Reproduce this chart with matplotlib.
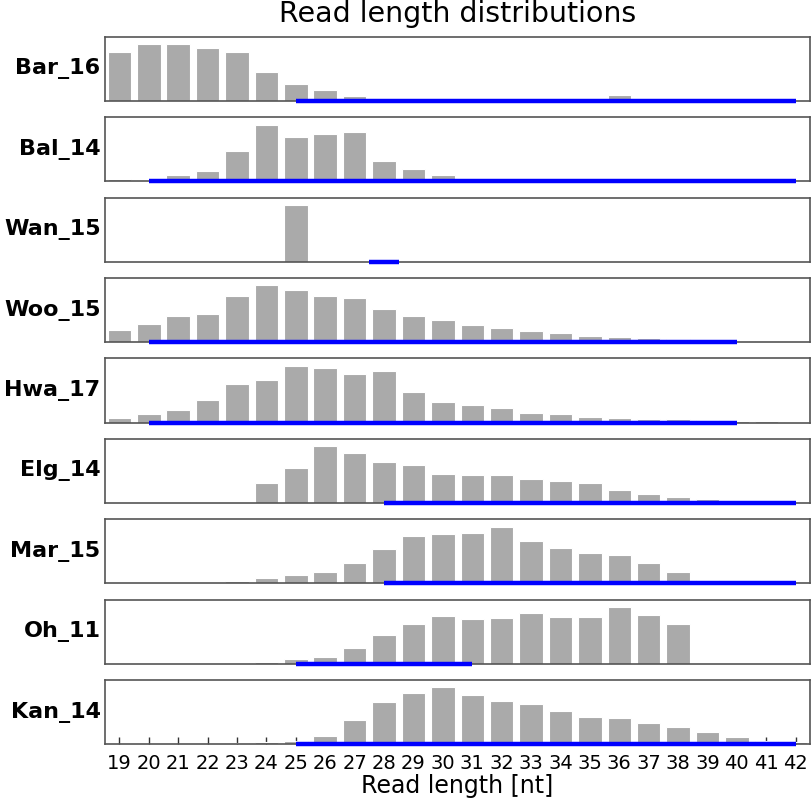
import numpy as np
import matplotlib
matplotlib.use("Agg")
import matplotlib.pyplot as plt

lengths = list(range(19, 43))
samples = ["Bar_16", "Bal_14", "Wan_15", "Woo_15", "Hwa_17", "Elg_14", "Mar_15", "Oh_11", "Kan_14"]

# read length frequencies (%), lengths 19..42
bar_16 = [14.5, 16.9, 16.9, 15.8, 14.5, 8.5, 4.9, 3.3, 1.5, 0.7, 0.1, 0, 0, 0, 0, 0, 0, 1.7, 0, 0, 0, 0, 0, 0]
bal_14 = [0.7, 0.3, 1.8, 3.0, 9.1, 16.9, 13.3, 14.0, 14.8, 6.0, 3.8, 1.8, 0, 0, 0, 0, 0, 0, 0, 0, 0, 0, 0, 0]
wan_15 = [0, 0, 0, 0, 0, 0, 100, 0, 0, 0, 0, 0, 0, 0, 0, 0, 0, 0, 0, 0, 0, 0, 0, 0]
woo_15 = [3.6, 5.5, 7.8, 8.4, 13.9, 17.0, 15.5, 13.9, 13.1, 10.0, 7.8, 6.5, 5.2, 4.2, 3.4, 2.6, 1.8, 1.6, 1.1, 0.8, 0.5, 0.3, 0.2, 0]
hwa_17 = [1.2, 2.4, 3.6, 6.2, 10.7, 12.0, 15.9, 15.2, 13.6, 14.4, 8.6, 5.7, 4.9, 4.1, 2.7, 2.4, 1.6, 1.3, 1.1, 1.0, 0.7, 0.5, 0.3, 0.2]
elg_14 = [0, 0.2, 0.2, 0.2, 0, 5.7, 10.2, 16.4, 14.3, 11.7, 10.9, 8.3, 8.0, 8.0, 7.0, 6.2, 5.7, 3.8, 2.5, 1.8, 1.0, 0, 0, 0]
mar_15 = [0, 0, 0, 0.2, 0.7, 1.7, 2.6, 3.3, 6.0, 10.3, 14.0, 14.8, 15.1, 16.9, 12.5, 10.6, 9.0, 8.3, 6.0, 3.3, 1.0, 0, 0, 0]
oh_11 = [0, 0, 0, 0, 0.2, 0.5, 1.1, 1.7, 3.7, 6.8, 9.4, 11.3, 10.5, 10.8, 12.1, 11.0, 11.0, 13.4, 11.5, 9.4, 0, 0, 0, 0]
kan_14 = [0, 0, 0, 0, 0.2, 0.5, 0.9, 2.2, 6.9, 12.1, 14.7, 16.3, 14.2, 12.4, 11.6, 9.5, 7.9, 7.4, 6.1, 4.8, 3.5, 2.0, 0.9, 0.5]
freqs = [bar_16, bal_14, wan_15, woo_15, hwa_17, elg_14, mar_15, oh_11, kan_14]

# selected length range per sample (blue line)
range_start = [25, 20, 27.5, 20, 20, 28, 28, 25, 25]
range_end = [42, 42, 28.5, 40, 40, 42, 42, 31, 42]

fig, axes = plt.subplots(len(samples), 1, figsize=(8.12, 8.01), dpi=100, sharex=True)
fig.subplots_adjust(left=0.129, right=0.998, top=0.954, bottom=0.071, hspace=0.255)

for i, ax in enumerate(axes):
    vals = freqs[i]
    ax.bar(lengths, vals, width=0.8, color="#aaaaaa", edgecolor="white", linewidth=0.8, zorder=2)
    ax.plot([range_start[i], range_end[i]], [0, 0], color="#0000ff", lw=3.2,
            solid_capstyle="butt", clip_on=False, zorder=5)
    ax.set_xlim(18.5, 42.5)
    ax.set_ylim(0, max(vals) * 1.13)
    ax.set_yticks([])
    for sp in ax.spines.values():
        sp.set_color("#555555")
        sp.set_linewidth(1.2)
    ax.set_ylabel(samples[i], rotation=0, ha="right", va="center",
                  fontsize=16, fontweight="bold", labelpad=3)
    ax.tick_params(axis="x", which="both", bottom=False, top=False, labelbottom=False)

axes[0].set_title("Read length distributions", fontsize=20.5, pad=11)

last = axes[-1]
last.set_xticks(lengths)
last.tick_params(axis="x", bottom=True, labelbottom=True, direction="in",
                 length=5, width=1, color="#333333", labelsize=14, pad=7)
last.set_xlabel("Read length [nt]", fontsize=17, labelpad=1)

plt.savefig("out.png", dpi=100)
